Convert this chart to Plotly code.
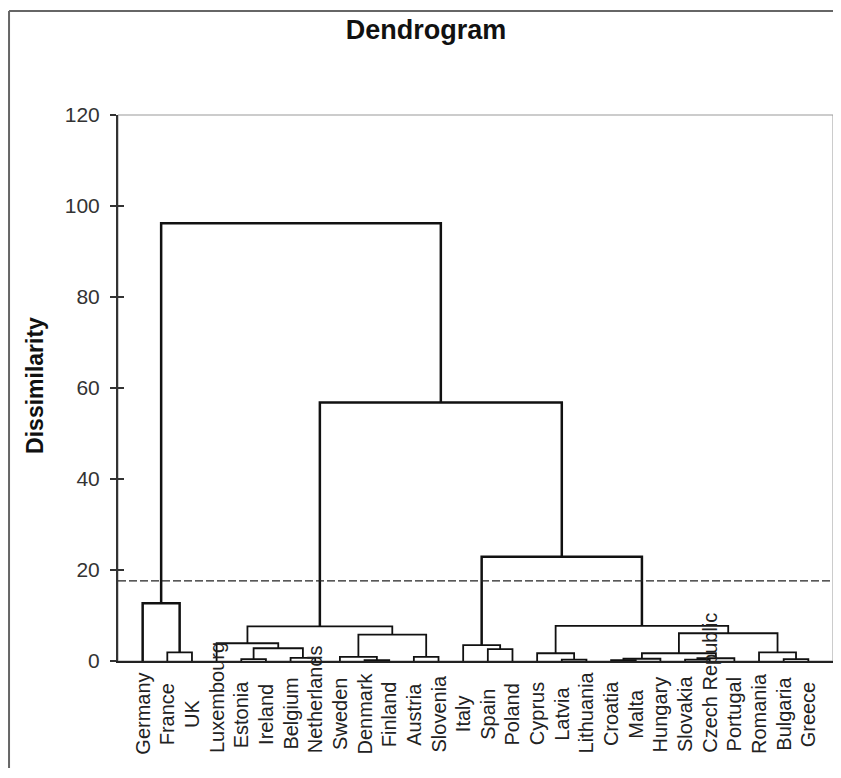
import plotly.graph_objects as go

# ---- data ----
countries = ["Germany", "France", "UK", "Luxembourg", "Estonia", "Ireland", "Belgium",
             "Netherlands", "Sweden", "Denmark", "Finland", "Austria", "Slovenia", "Italy",
             "Spain", "Poland", "Cyprus", "Latvia", "Lithuania", "Croatia", "Malta",
             "Hungary", "Slovakia", "Czech Republic", "Portugal", "Romania", "Bulgaria", "Greece"]

# linkage (scipy-like): clusters 0..27 are leaves, merge k creates cluster 28+k
merge_left = [1, 0, 4, 6, 30, 3, 9, 8, 11, 35, 33, 14, 13, 17, 16, 19, 43, 22, 45, 44, 26, 25, 47, 42, 40, 38, 29]
merge_right = [2, 28, 5, 7, 31, 32, 10, 34, 12, 36, 37, 15, 39, 18, 41, 20, 21, 23, 24, 46, 27, 48, 49, 50, 51, 52, 53]
merge_height = [1.9, 12.7, 0.4, 0.7, 2.8, 3.9, 0.2, 0.9, 0.9, 5.8, 7.6, 2.6, 3.5, 0.3, 1.7,
                0.2, 0.5, 0.3, 0.6, 1.7, 0.4, 1.9, 6.1, 7.7, 22.9, 56.8, 96.2]
cut_level = 17.6
y_ticks = [0, 20, 40, 60, 80, 100, 120]

FONT = "Liberation Sans, Arial, sans-serif"
LABEL_SIZE = 20

n = len(countries)
pos = {i: i + 1 for i in range(n)}
hgt = {i: 0.0 for i in range(n)}

thin_x, thin_y, thick_x, thick_y = [], [], [], []
for k, (a, b, h) in enumerate(zip(merge_left, merge_right, merge_height)):
    xa, xb = pos[a], pos[b]
    ya, yb = hgt[a], hgt[b]
    xs = [xa, xa, xb, xb, None]
    ys = [ya, h, h, yb, None]
    if h > 10:
        thick_x += xs
        thick_y += ys
    else:
        thin_x += xs
        thin_y += ys
    pos[n + k] = (xa + xb) / 2
    hgt[n + k] = h

fig = go.Figure()
fig.add_trace(go.Scatter(x=thin_x, y=thin_y, mode="lines",
                         line=dict(color="#111111", width=1.8), hoverinfo="skip", showlegend=False))
fig.add_trace(go.Scatter(x=thick_x, y=thick_y, mode="lines",
                         line=dict(color="#111111", width=2.5), hoverinfo="skip", showlegend=False))
fig.add_trace(go.Scatter(x=[0, n + 1], y=[cut_level, cut_level], mode="lines",
                         line=dict(color="#222222", width=1.3, dash="8px,3px"),
                         hoverinfo="skip", showlegend=False))
fig.add_trace(go.Scatter(x=[None], y=[None], yaxis="y2", showlegend=False, hoverinfo="skip"))

# approximate Arial advance widths (em) to mimic the original label placement:
# short labels centred in a fixed box, long labels start at the box bottom
_w = dict(zip("abcdefghijklmnopqrstuvwxyz",
              [.556, .556, .5, .556, .556, .278, .556, .556, .222, .222, .5, .222, .833,
               .556, .556, .556, .556, .333, .5, .278, .556, .5, .722, .5, .5, .5]))


def text_px(s):
    return LABEL_SIZE * sum(_w.get(c, .278 if c == " " else .667) for c in s)


PX_PER_PAPER = 546.0
BOX_PX = 82.0
annotations = []
for i, name in enumerate(countries):
    common = dict(text=name, x=i + 1, xref="x", yref="paper", textangle=-90, showarrow=False,
                  xanchor="center", font=dict(family=FONT, size=LABEL_SIZE, color="#222222"))
    if text_px(name) <= BOX_PX:
        annotations.append(dict(y=-53 / PX_PER_PAPER, yanchor="middle", **common))
    else:
        annotations.append(dict(y=-94 / PX_PER_PAPER, yanchor="bottom", **common))

annotations.append(dict(text="<b>Dissimilarity</b>", textangle=-90, xref="paper", yref="paper",
                        x=-0.116, y=0.504, xanchor="center", yanchor="middle", showarrow=False,
                        font=dict(family=FONT, size=23, color="#111111")))

fig.update_layout(
    width=826, height=760, autosize=False,
    margin=dict(l=110, r=1, t=107, b=107),
    paper_bgcolor="white", plot_bgcolor="white",
    title=dict(text="<b>Dendrogram</b>", font=dict(family=FONT, size=27, color="#111111"),
               x=0.506, xref="container", xanchor="center",
               y=1 - 22 / 760, yref="container", yanchor="middle", automargin=False),
    xaxis=dict(range=[0, n + 1], tickvals=list(range(1, n + 1)), ticktext=countries,
               showticklabels=False, showgrid=False, zeroline=False, showline=True,
               linecolor="#222222", linewidth=2, ticks="", automargin=False),
    yaxis=dict(range=[0, 120], tickvals=y_ticks, showgrid=False, zeroline=False,
               showline=True, linecolor="#333333", linewidth=2, ticks="outside",
               ticklen=6, tickwidth=1.5, tickcolor="#333333", automargin=False,
               ticklabelstandoff=6,
               tickfont=dict(family=FONT, size=21, color="#333333")),
    yaxis2=dict(range=[0, 120], tickvals=y_ticks, overlaying="y", side="left",
                showgrid=False, zeroline=False, showline=False, ticks="inside",
                ticklen=6, tickwidth=1.5, tickcolor="#333333", showticklabels=False,
                automargin=False),
    annotations=annotations,
    shapes=[
        dict(type="rect", xref="paper", yref="paper", x0=0, x1=1, y0=0, y1=1,
             line=dict(color="#999999", width=1), layer="below"),
        dict(type="line", xref="paper", yref="paper", x0=-0.1524, x1=-0.1524, y0=1.1905, y1=-0.3,
             line=dict(color="#666666", width=2)),
        dict(type="line", xref="paper", yref="paper", x0=-0.1524, x1=1.2, y0=1.1905, y1=1.1905,
             line=dict(color="#666666", width=2)),
    ],
)

fig.write_html("out.html")
